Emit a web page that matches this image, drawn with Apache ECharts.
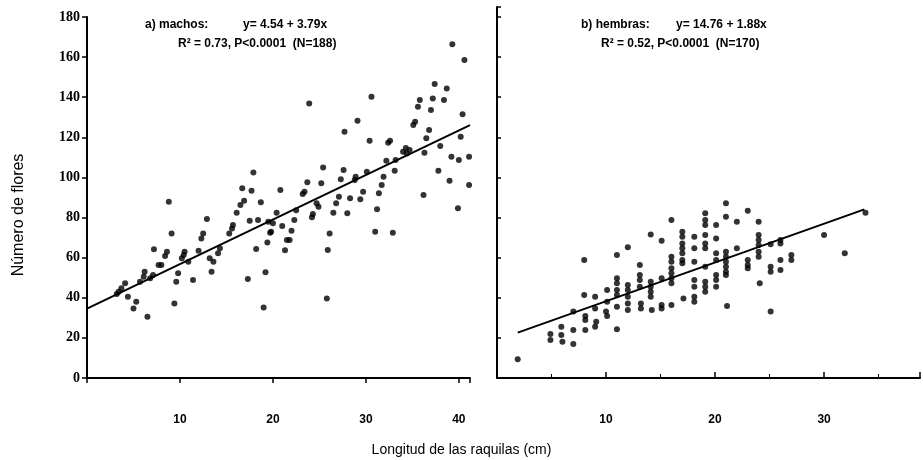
<!DOCTYPE html>
<html>
<head>
<meta charset="utf-8">
<script src="https://cdn.jsdelivr.net/npm/echarts@6/dist/echarts.min.js"></script>
<style>html,body{margin:0;padding:0;background:#fff}#c{width:923px;height:460px}</style>
</head>
<body>
<div id="c"></div>
<script>
// ---- data ----
const xTickLabelsA = [10, 20, 30, 40];
const xTickLabelsB = [10, 20, 30];
const yTicks = [0, 20, 40, 60, 80, 100, 120, 140, 160, 180];

// a) machos: [longitud raquilas (cm), numero de flores]
const machosX = [39.3,40.6,23.9,30.6,37.4,38.7,37.2,38.4,35.8,35.6,37.0,29.1,40.4,35.3,35.1,27.7,36.8,36.5,30.4,32.4,32.6,40.2,38.0,34.3,34.7,34.0,34.4,36.3,39.2,40.0,41.1,25.4,27.6,33.2,32.2,33.1,30.1,28.9,28.8,31.9,27.3,37.8,39.0,41.1,23.7,25.2,31.7,20.8,23.4,23.2,27.1,28.3,29.7,31.4,36.2,39.9,20.4,22.5,24.7,24.9,26.8,29.4,26.5,28.0,24.3,24.2,31.2,20.0,22.3,21.0,19.8,22.0,26.1,31.0,32.9,21.5,21.8,21.3,25.9,25.8,9.1,12.5,12.3,15.7,15.6,15.3,17.5,19.5,19.7,7.2,8.6,8.4,10.5,10.4,10.2,12.0,14.3,14.1,18.2,19.4,8.0,7.7,6.2,6.1,5.7,7.1,6.8,10.9,9.8,13.2,13.6,13.4,11.4,9.6,19.2,17.3,4.1,3.7,3.4,3.2,4.4,5.3,5.0,9.4,6.5,19.0,8.8,17.9,16.7,17.7,16.9,16.5,18.7,12.9,16.1,18.4];
const machosY = [166.4,158.5,136.9,140.2,146.6,144.4,139.4,138.6,138.6,135.2,133.6,128.3,131.5,127.8,126.1,122.8,123.6,119.5,118.3,117.3,118.3,120.3,115.7,114.7,113.7,112.8,112.0,112.3,110.3,108.7,110.3,105.0,103.7,108.7,108.3,103.3,102.8,100.3,98.7,100.3,99.1,103.3,98.4,96.2,97.6,97.1,96.2,93.7,92.9,91.7,90.4,89.6,92.9,92.1,91.2,84.6,82.4,83.7,87.1,85.4,87.1,89.1,82.4,82.1,81.8,80.1,84.2,77.1,78.8,75.8,72.9,73.4,72.1,72.9,72.4,68.8,68.8,63.7,63.8,39.7,72.1,72.1,69.6,76.3,74.6,72.1,78.4,77.9,72.4,64.2,63.0,60.8,63.0,61.3,59.7,63.5,64.7,62.2,64.3,67.6,56.3,56.3,53.0,50.5,48.0,51.3,49.7,58.0,52.2,59.7,58.0,53.0,48.9,48.0,52.7,49.4,47.2,44.7,43.0,41.9,40.5,38.0,34.7,37.2,30.6,35.2,87.9,102.5,94.6,93.4,88.4,86.2,87.6,79.3,82.4,78.8];
const machosFitX = [0, 41.2];
const machosFitY = [34.6, 126.1];

// b) hembras
const hembrasX = [1.9,4.9,4.9,5.9,5.9,6.0,7.0,7.0,7.0,8.0,8.0,8.1,8.1,8.1,9.0,9.0,9.1,9.0,10.1,10.1,10.0,10.1,11.0,11.0,11.0,11.0,11.0,11.0,11.0,12.0,12.0,12.0,12.0,12.0,12.0,13.1,13.1,13.1,13.1,13.2,13.2,14.1,14.1,14.1,14.1,14.1,14.2,15.1,15.1,15.1,15.1,16.0,16.0,16.0,16.0,16.0,16.0,16.0,16.0,17.0,17.0,17.0,17.0,17.0,17.0,17.0,17.1,18.1,18.1,18.1,18.1,18.1,18.1,18.1,19.1,19.1,19.1,19.1,19.1,19.1,19.1,19.1,19.1,19.1,20.1,20.1,20.1,20.1,20.1,20.1,20.1,21.0,21.0,21.0,21.0,21.0,21.0,21.0,21.0,21.1,22.0,22.0,23.0,23.0,23.0,23.0,24.0,24.0,24.0,24.0,24.0,24.0,24.1,25.1,25.1,25.1,25.1,26.0,26.0,26.0,26.0,27.0,27.0,30.0,31.9,33.8];
const hembrasY = [9.3,21.9,18.9,25.6,21.4,18.1,23.9,16.9,33.1,58.8,41.4,30.9,28.9,23.9,40.5,34.7,28.1,25.6,43.9,38.0,33.1,30.9,61.3,49.7,47.2,43.9,41.4,35.5,24.3,65.2,46.4,43.9,40.5,37.2,33.9,56.3,51.3,48.9,45.5,37.2,34.7,71.6,48.0,45.5,43.0,40.5,33.9,68.4,49.7,36.4,34.7,78.8,60.5,58.0,54.7,52.2,49.7,47.2,36.4,72.9,70.4,67.1,64.7,62.2,58.8,57.2,39.7,70.4,64.7,58.0,48.9,45.5,40.5,38.0,82.1,78.8,76.3,71.3,67.1,64.7,55.5,48.0,45.5,43.0,76.3,69.6,62.2,58.8,51.3,48.9,45.5,87.1,80.4,63.0,60.5,58.0,55.5,53.0,51.3,35.9,77.9,64.7,83.4,58.8,56.3,54.7,77.9,71.3,68.8,66.3,63.0,60.5,47.2,66.7,55.5,53.0,33.1,68.8,67.1,58.8,53.8,61.3,58.8,71.3,62.2,82.4];
const hembrasFitX = [1.9, 33.7];
const hembrasFitY = [22.6, 84.1];

// ---- chart ----
const zip = (a, b) => a.map((v, i) => [v, b[i]]);
const black = '#000';
const chart = echarts.init(document.getElementById('c'), null, {renderer: 'canvas'});

const xLabelStyle = {color: black, fontFamily: 'Liberation Sans', fontWeight: 'bold', fontSize: 12, margin: 36};
const noteFont = 'bold 12px "Liberation Sans"';

chart.setOption({
  backgroundColor: '#fff',
  animation: false,
  title: {
    text: 'Longitud de las raquilas (cm)',
    left: 'center', top: 438,
    textStyle: {fontFamily: 'Liberation Sans', fontWeight: 'normal', fontSize: 14, color: black}
  },
  grid: [
    {left: 87, right: 453, top: 17, bottom: 82},
    {left: 497, right: 0, top: 7, bottom: 82}
  ],
  xAxis: [
    {
      gridIndex: 0, type: 'value', min: 0, max: 41.2, interval: 10,
      axisLine: {lineStyle: {color: black, width: 2}},
      axisTick: {show: true, length: 5, lineStyle: {color: black, width: 1.5}},
      splitLine: {show: false},
      axisLabel: Object.assign({}, xLabelStyle, {
        formatter: v => xTickLabelsA.includes(v) ? String(v) : ''
      })
    },
    {
      gridIndex: 1, type: 'value', min: 0, max: 38.8, interval: 10,
      axisLine: {lineStyle: {color: black, width: 2}},
      axisTick: {show: true, inside: true, length: 6, lineStyle: {color: black, width: 1.5}},
      minorTick: {show: true, splitNumber: 2, length: 4, lineStyle: {color: black, width: 1}},
      splitLine: {show: false},
      axisLabel: Object.assign({}, xLabelStyle, {
        formatter: v => xTickLabelsB.includes(v) ? String(v) : ''
      })
    }
  ],
  yAxis: [
    {
      gridIndex: 0, type: 'value', min: 0, max: 180, interval: 20,
      axisLine: {show: true, lineStyle: {color: black, width: 2}},
      axisTick: {show: true, length: 5, lineStyle: {color: black, width: 1.5}},
      splitLine: {show: false},
      axisLabel: {
        color: black, fontFamily: 'Liberation Serif', fontWeight: 'bold', fontSize: 14, margin: 7,
        formatter: v => yTicks.includes(v) ? String(v) : ''
      }
    },
    {
      gridIndex: 1, type: 'value', min: 0, max: 185, interval: 20,
      axisLine: {show: true, lineStyle: {color: black, width: 2}},
      axisTick: {show: true, inside: true, length: 4, lineStyle: {color: black, width: 1.5}},
      splitLine: {show: false},
      axisLabel: {show: false}
    }
  ],
  graphic: [
    {type: 'text', x: 19, y: 215, rotation: Math.PI / 2,
     style: {text: 'Número de flores', font: '16px "Liberation Sans"', fill: black, align: 'center', verticalAlign: 'middle'}},
    {type: 'text', left: 145, top: 19, style: {text: 'a) machos:', font: noteFont, fill: black}},
    {type: 'text', left: 243, top: 19, style: {text: 'y= 4.54 + 3.79x', font: noteFont, fill: black}},
    {type: 'text', left: 178, top: 38, style: {text: 'R² = 0.73, P<0.0001  (N=188)', font: noteFont, fill: black}},
    {type: 'text', left: 581, top: 19, style: {text: 'b) hembras:', font: noteFont, fill: black}},
    {type: 'text', left: 676, top: 19, style: {text: 'y= 14.76 + 1.88x', font: noteFont, fill: black}},
    {type: 'text', left: 601, top: 38, style: {text: 'R² = 0.52, P<0.0001  (N=170)', font: noteFont, fill: black}}
  ],
  series: [
    {
      type: 'scatter', xAxisIndex: 0, yAxisIndex: 0, data: zip(machosX, machosY),
      symbol: 'circle', symbolSize: 6, itemStyle: {color: black}
    },
    {
      type: 'line', xAxisIndex: 0, yAxisIndex: 0, data: zip(machosFitX, machosFitY),
      showSymbol: false, lineStyle: {color: black, width: 2}
    },
    {
      type: 'scatter', xAxisIndex: 1, yAxisIndex: 1, data: zip(hembrasX, hembrasY),
      symbol: 'circle', symbolSize: 6, itemStyle: {color: black}
    },
    {
      type: 'line', xAxisIndex: 1, yAxisIndex: 1, data: zip(hembrasFitX, hembrasFitY),
      showSymbol: false, lineStyle: {color: black, width: 2}
    }
  ]
});
</script>
</body>
</html>
